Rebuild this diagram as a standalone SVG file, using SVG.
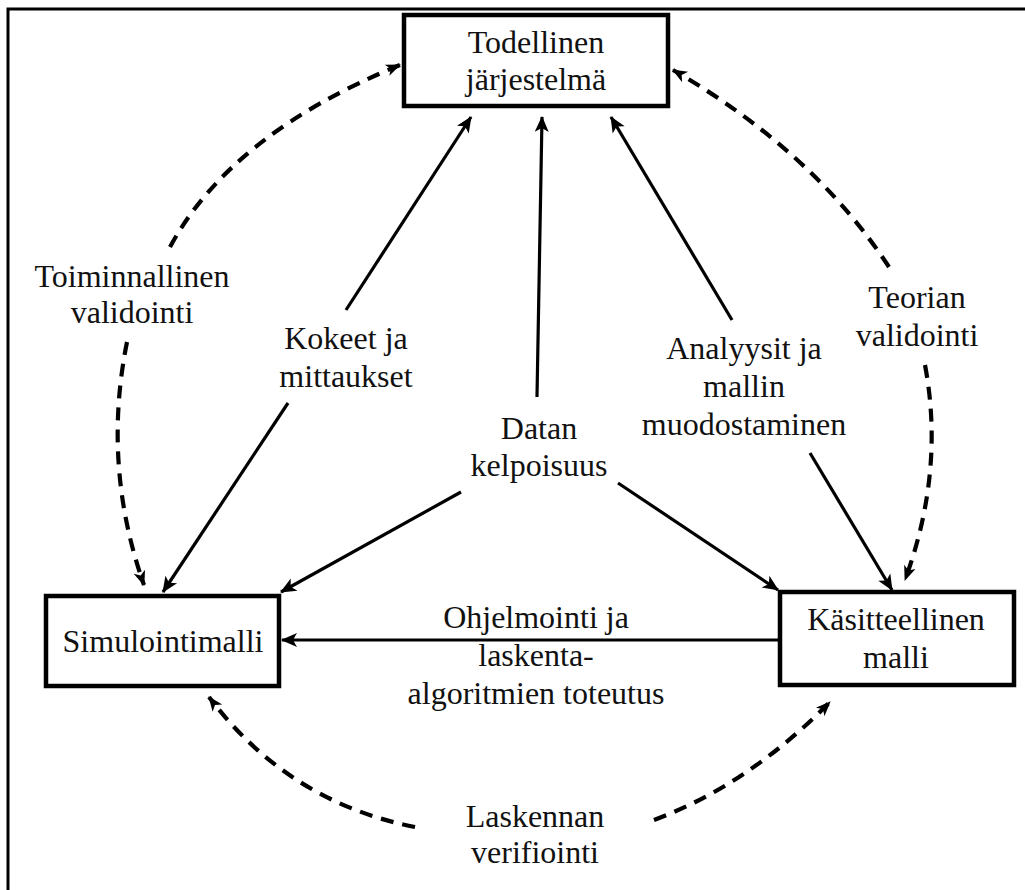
<svg xmlns="http://www.w3.org/2000/svg" width="1025" height="890" viewBox="0 0 1025 890">
<style>
text{font-family:"Liberation Serif","Times New Roman",serif;font-size:32px;fill:#111;text-anchor:middle}
.box{fill:#fff;stroke:#000;stroke-width:4.5}
.solid{fill:none;stroke:#000;stroke-width:3.2;marker-end:url(#ah)}
.dash{fill:none;stroke:#000;stroke-width:4.2;stroke-dasharray:13 9;marker-end:url(#ahd)}
</style>
<defs>
<marker id="ah" markerUnits="userSpaceOnUse" markerWidth="20" markerHeight="20" viewBox="0 0 20 20" refX="17" refY="10" orient="auto">
<path d="M2,3 L18,10 L2,17 L6,10 Z" fill="#000"/>
</marker>
<marker id="ahd" markerUnits="userSpaceOnUse" markerWidth="20" markerHeight="20" viewBox="0 0 20 20" refX="17" refY="10" orient="auto">
<path d="M3,4 L18,10 L3,16 L7,10 Z" fill="#000"/>
</marker>
</defs>
<rect width="1025" height="890" fill="#fff"/>
<path d="M8,890 V9 H1025" fill="none" stroke="#000" stroke-width="3"/>
<g id="connectors">
<path class="solid" d="M346,310 L471,117"/>
<path class="solid" d="M288,403 L163,592"/>
<path class="solid" d="M537,397 L542,117"/>
<path class="solid" d="M461,492 L281,592"/>
<path class="solid" d="M618,483 L778,590"/>
<path class="solid" d="M732,320 L611,117"/>
<path class="solid" d="M810,453 L892,590"/>
<path class="solid" d="M778,640 L282,640"/>
<path class="dash" d="M170,247 Q231,134 400,65"/>
<path class="dash" d="M127,342 Q102,466 144,585"/>
<path class="dash" d="M889,267 Q813,151 673,70"/>
<path class="dash" d="M925,365 Q945,471 905,580"/>
<path class="dash" d="M415,827 Q288,802 209,697"/>
<path class="dash" d="M654,820 Q748,785 830,702"/>
</g>
<g id="node-todellinen">
<rect class="box" x="404" y="15" width="264" height="91"/>
<text x="536" y="53">Todellinen</text>
<text x="536" y="90">järjestelmä</text>
</g>
<g id="node-simulointimalli">
<rect class="box" x="46" y="596" width="233" height="90"/>
<text x="163" y="652">Simulointimalli</text>
</g>
<g id="node-kasitteellinen">
<rect class="box" x="780" y="592" width="234" height="93"/>
<text x="896" y="630">Käsitteellinen</text>
<text x="896" y="668">malli</text>
</g>
<g id="labels">
<text x="132" y="287">Toiminnallinen</text>
<text x="132" y="323">validointi</text>
<text x="346" y="349">Kokeet ja</text>
<text x="346" y="387">mittaukset</text>
<text x="539" y="439">Datan</text>
<text x="539" y="476">kelpoisuus</text>
<text x="744" y="359">Analyysit ja</text>
<text x="744" y="397">mallin</text>
<text x="744" y="435">muodostaminen</text>
<text x="917" y="308">Teorian</text>
<text x="917" y="346">validointi</text>
<text x="536" y="628">Ohjelmointi ja</text>
<text x="536" y="666">laskenta-</text>
<text x="536" y="704">algoritmien toteutus</text>
<text x="535" y="827">Laskennan</text>
<text x="535" y="863">verifiointi</text>
</g>
</svg>
